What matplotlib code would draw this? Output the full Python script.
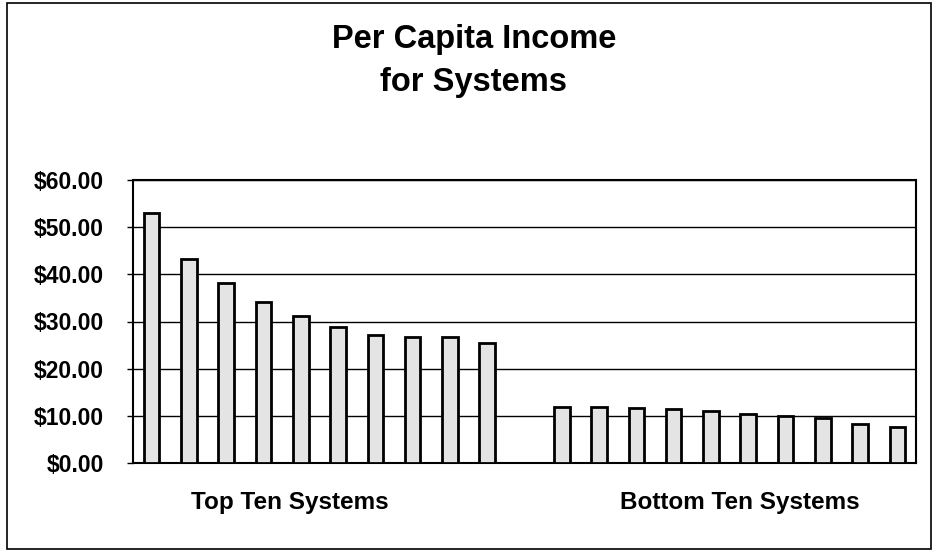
import matplotlib
matplotlib.use("Agg")
import matplotlib.pyplot as plt
from matplotlib.patches import Rectangle
from matplotlib.ticker import FuncFormatter

plt.rcParams['font.family'] = ['Liberation Sans', 'DejaVu Sans']

title = "Per Capita Income\nfor Systems"
group_labels = ["Top Ten Systems", "Bottom Ten Systems"]
top_ten = [53.0, 43.3, 38.1, 34.1, 31.1, 28.8, 27.1, 26.7, 26.7, 25.4]
bottom_ten = [11.9, 11.9, 11.6, 11.5, 11.1, 10.4, 10.0, 9.5, 8.3, 7.6]
y_ticks = [0, 10, 20, 30, 40, 50, 60]

fig = plt.figure(figsize=(9.37, 5.52), dpi=100)
fig.patch.set_facecolor('white')
ax = fig.add_axes([133/937, 1-463/552, 783/937, 283/552])

x_top = list(range(len(top_ten)))
x_bot = [len(top_ten) + 1 + i for i in range(len(bottom_ten))]
bar_kw = dict(width=0.42, color='#e4e4e4', edgecolor='black', linewidth=2.0, zorder=3)
ax.bar(x_top, top_ten, **bar_kw)
ax.bar(x_bot, bottom_ten, **bar_kw)

ax.set_xlim(-0.5, x_bot[-1] + 0.5)
ax.set_ylim(0, 60)
ax.set_yticks(y_ticks)
ax.yaxis.set_major_formatter(FuncFormatter(lambda v, p: f"${v:.2f}"))
ax.yaxis.grid(True, color='black', linewidth=1.0, zorder=0)
ax.set_axisbelow(True)
for s in ax.spines.values():
    s.set_linewidth(1.5)
    s.set_color('black')
ax.tick_params(axis='y', direction='out', length=4, width=1, pad=17,
               labelsize=16.5)
for t in ax.get_yticklabels():
    t.set_fontweight('bold')

group_pos = [3.7, 15.77]
ax.set_xticks(group_pos)
ax.set_xticklabels(group_labels, fontsize=17.5, fontweight='bold')
ax.tick_params(axis='x', length=0, pad=20)

fig.text(474/937, 1-61/552, title, ha='center', va='center', fontsize=23.5,
         fontweight='bold', linespacing=1.5)

fig.patches.append(Rectangle((7/937, 1-549/552), 924/937, 546/552,
                             transform=fig.transFigure, fill=False,
                             edgecolor='black', linewidth=1.2))

fig.savefig('out.png', dpi=100)
